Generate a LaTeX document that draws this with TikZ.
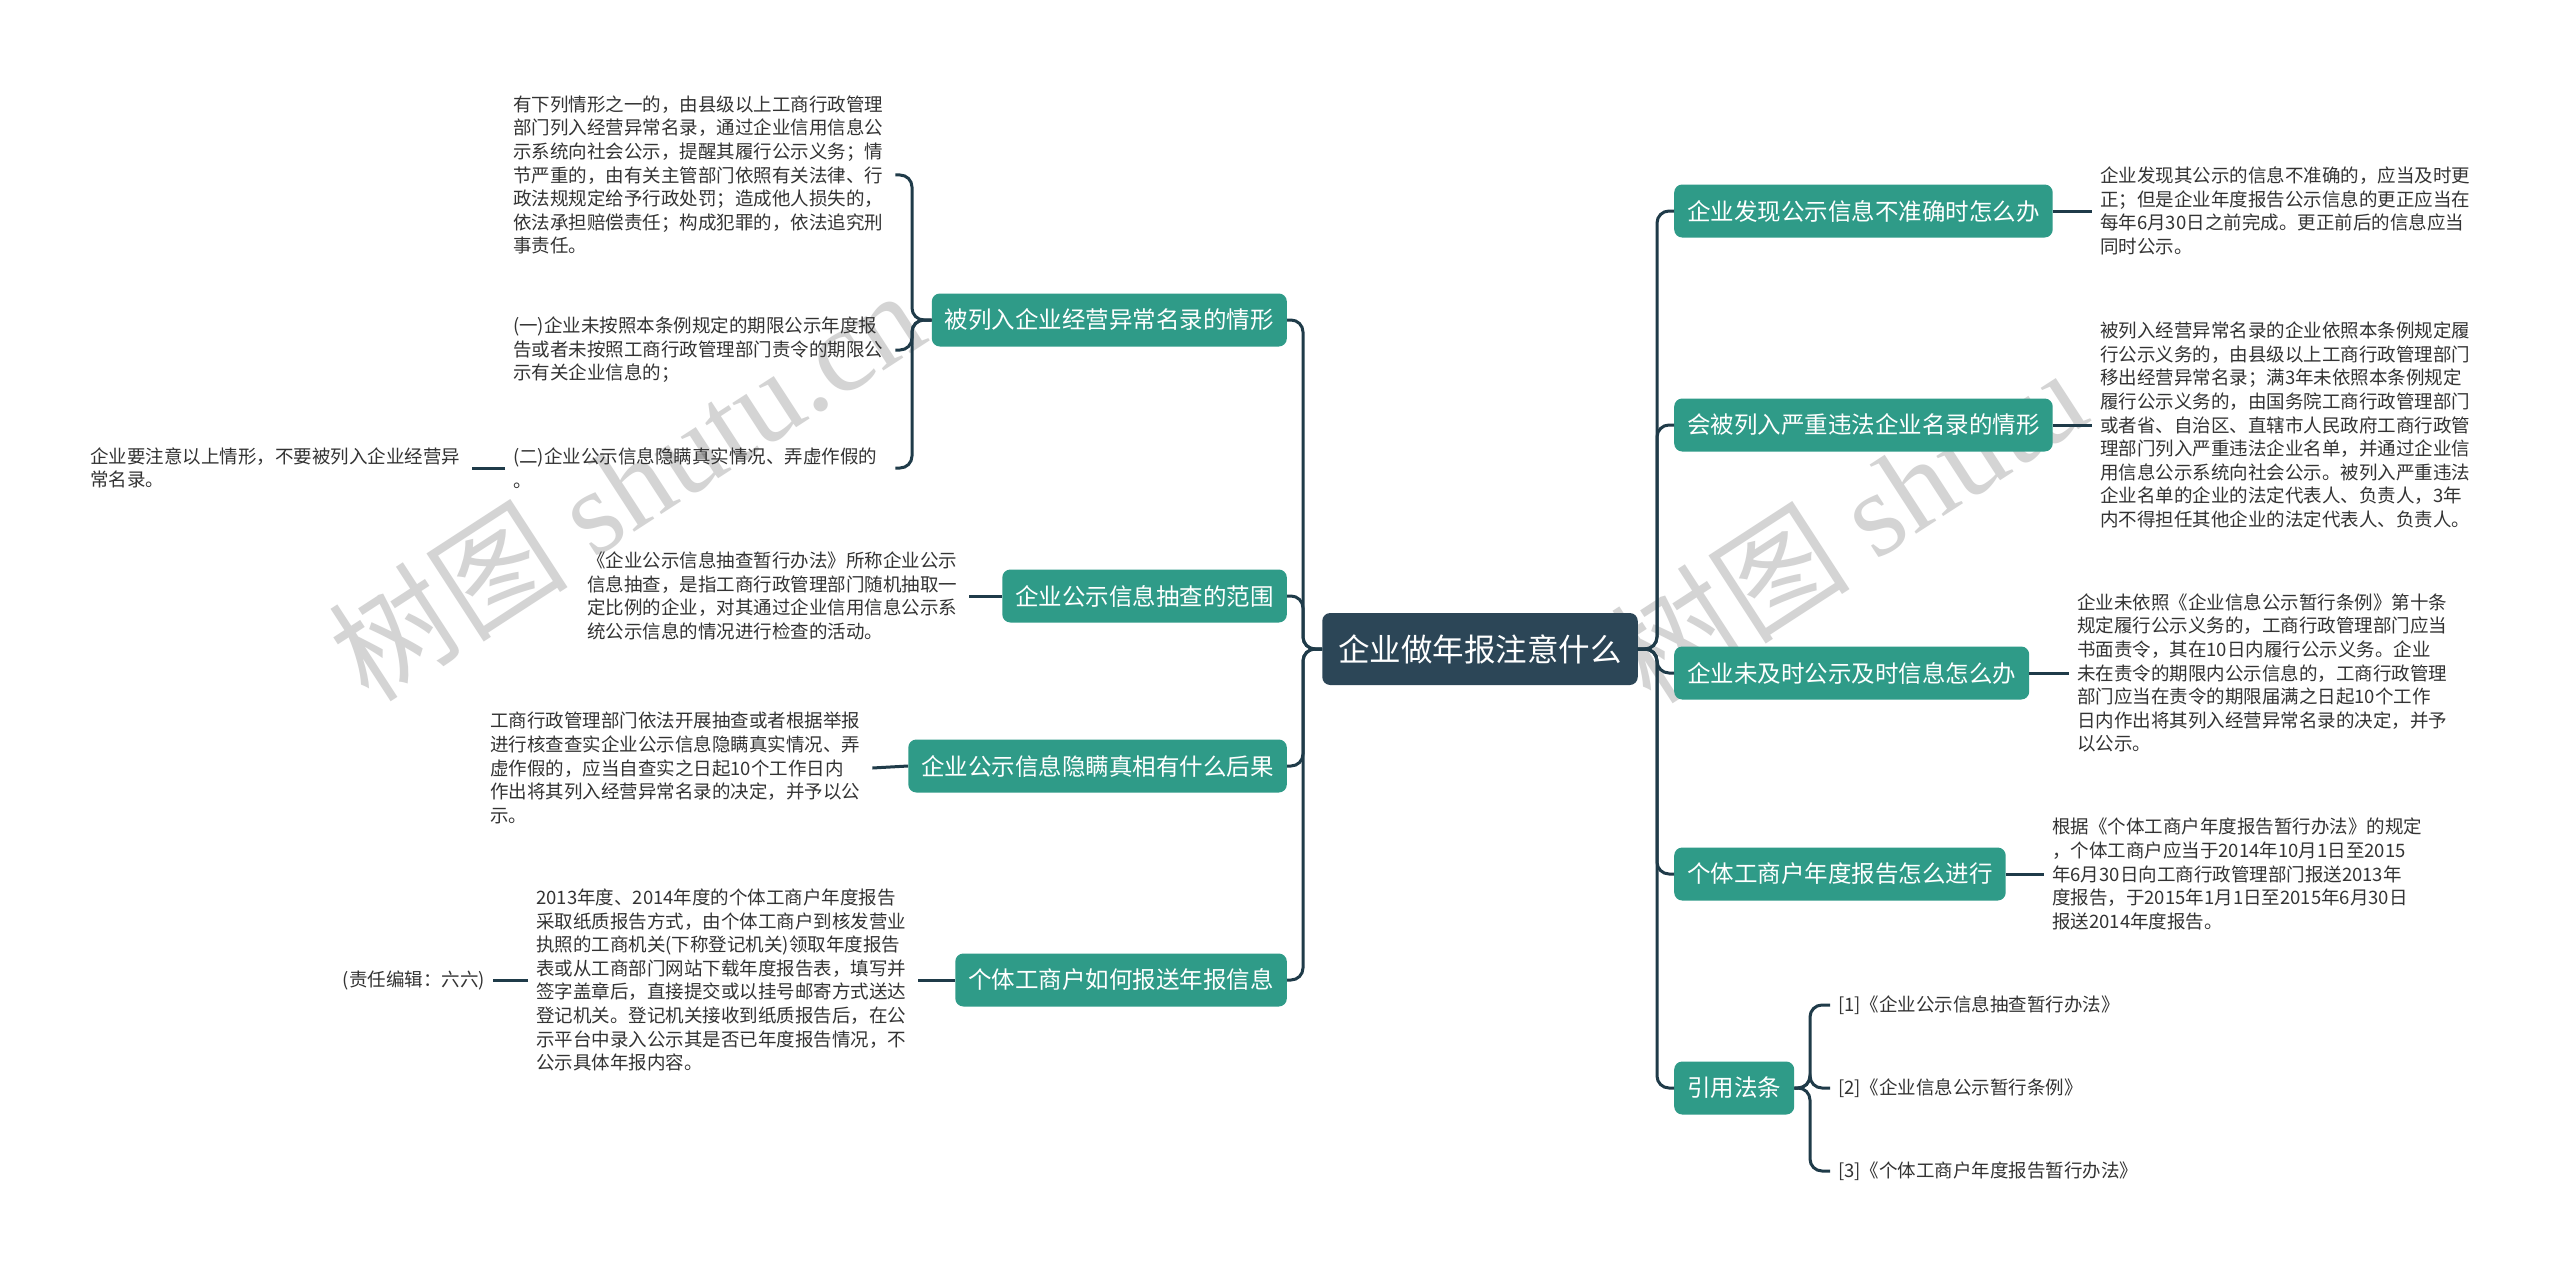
\documentclass[tikz,border=0pt]{standalone}
\usepackage{fontspec}
\setmainfont{Noto Sans CJK SC}
\newfontfamily\wmlatin{Liberation Serif}
\definecolor{rootC}{HTML}{2C4657}
\definecolor{tealC}{HTML}{2F9B88}
\definecolor{lineC}{HTML}{1F3B49}
\definecolor{leafC}{HTML}{333333}
\definecolor{wmC}{HTML}{D4D4D4}
\tikzset{
 conn/.style={draw=lineC, line width=3pt, rounded corners=12pt},
 rootbox/.style={fill=rootC, rounded corners=8pt, text=white, font=\fontsize{31.5}{36}\selectfont, inner xsep=16pt, inner ysep=0pt, minimum height=72pt},
 branchbox/.style={fill=tealC, rounded corners=8pt, text=white, font=\fontsize{23.5}{28}\selectfont, inner xsep=13pt, inner ysep=0pt, minimum height=53pt},
 leaf/.style={text=leafC, font=\fontsize{18.5}{23.6}\selectfont, align=left, inner xsep=8pt, inner ysep=2pt, text width=374pt, anchor=west},
 refitem/.style={text=leafC, font=\fontsize{18.5}{23.6}\selectfont, inner xsep=8pt, inner ysep=2pt, anchor=west},
 wm/.style={text=wmC, font=\fontsize{120}{130}\selectfont, rotate=33},
}
\begin{document}
\begin{tikzpicture}[x=1pt,y=-1pt]
\fill[white] (0,0) rectangle (2560,1271);
\useasboundingbox (0,0) rectangle (2560,1271);
% watermarks
\node[wm] (wm1) at (626,484) {树图 {\wmlatin shutu.cn}};
\node[wm] (wm2) at (1848,525) {树图 {\wmlatin shutu}};
% spines
\coordinate (sR) at (1657,0);
\coordinate (sL) at (1303,0);
\coordinate (sL1) at (912,0);
\coordinate (sR5) at (1810,0);
% root
\node[rootbox] (root) at (1480,649) {企业做年报注意什么};
% right branches
\node[branchbox, anchor=west] (R1) at (1674,211) {企业发现公示信息不准确时怎么办};
\node[branchbox, anchor=west] (R2) at (1674,425) {会被列入严重违法企业名录的情形};
\node[branchbox, anchor=west] (R3) at (1674,673) {企业未及时公示及时信息怎么办};
\node[branchbox, anchor=west] (R4) at (1674,874) {个体工商户年度报告怎么进行};
\node[branchbox, anchor=west] (R5) at (1674,1088) {引用法条};
% left branches
\node[branchbox, anchor=east] (L1) at (1287,320) {被列入企业经营异常名录的情形};
\node[branchbox, anchor=east] (L2) at (1287,596) {企业公示信息抽查的范围};
\node[branchbox, anchor=east] (L3) at (1287,766) {企业公示信息隐瞒真相有什么后果};
\node[branchbox, anchor=east] (L4) at (1287,980) {个体工商户如何报送年报信息};
% right leaves
\node[leaf] (R1a) at (2092,211) {企业发现其公示的信息不准确的，应当及时更\\正；但是企业年度报告公示信息的更正应当在\\每年6月30日之前完成。更正前后的信息应当\\同时公示。};
\node[leaf] (R2a) at (2092,425) {被列入经营异常名录的企业依照本条例规定履\\行公示义务的，由县级以上工商行政管理部门\\移出经营异常名录；满3年未依照本条例规定\\履行公示义务的，由国务院工商行政管理部门\\或者省、自治区、直辖市人民政府工商行政管\\理部门列入严重违法企业名单，并通过企业信\\用信息公示系统向社会公示。被列入严重违法\\企业名单的企业的法定代表人、负责人，3年\\内不得担任其他企业的法定代表人、负责人。};
\node[leaf] (R3a) at (2069,673) {企业未依照《企业信息公示暂行条例》第十条\\规定履行公示义务的，工商行政管理部门应当\\书面责令，其在10日内履行公示义务。企业\\未在责令的期限内公示信息的，工商行政管理\\部门应当在责令的期限届满之日起10个工作\\日内作出将其列入经营异常名录的决定，并予\\以公示。};
\node[leaf] (R4a) at (2044,874) {根据《个体工商户年度报告暂行办法》的规定\\，个体工商户应当于2014年10月1日至2015\\年6月30日向工商行政管理部门报送2013年\\度报告，于2015年1月1日至2015年6月30日\\报送2014年度报告。};
\node[refitem] (ref1) at (1830,1005) {[1]《企业公示信息抽查暂行办法》};
\node[refitem] (ref2) at (1830,1088) {[2]《企业信息公示暂行条例》};
\node[refitem] (ref3) at (1830,1171) {[3]《个体工商户年度报告暂行办法》};
% left leaves
\node[leaf] (L1a) at (505,175) {有下列情形之一的，由县级以上工商行政管理\\部门列入经营异常名录，通过企业信用信息公\\示系统向社会公示，提醒其履行公示义务；情\\节严重的，由有关主管部门依照有关法律、行\\政法规规定给予行政处罚；造成他人损失的，\\依法承担赔偿责任；构成犯罪的，依法追究刑\\事责任。};
\node[leaf] (L1b) at (505,350) {(一)企业未按照本条例规定的期限公示年度报\\告或者未按照工商行政管理部门责令的期限公\\示有关企业信息的；};
\node[leaf] (L1c) at (505,468) {(二)企业公示信息隐瞒真实情况、弄虚作假的\\。};
\node[leaf] (L1d) at (82,468) {企业要注意以上情形，不要被列入企业经营异\\常名录。};
\node[leaf] (L2a) at (579,596) {《企业公示信息抽查暂行办法》所称企业公示\\信息抽查，是指工商行政管理部门随机抽取一\\定比例的企业，对其通过企业信用信息公示系\\统公示信息的情况进行检查的活动。};
\node[leaf] (L3a) at (482,768) {工商行政管理部门依法开展抽查或者根据举报\\进行核查查实企业公示信息隐瞒真实情况、弄\\虚作假的，应当自查实之日起10个工作日内\\作出将其列入经营异常名录的决定，并予以公\\示。};
\node[leaf] (L4a) at (528,980) {2013年度、2014年度的个体工商户年度报告\\采取纸质报告方式，由个体工商户到核发营业\\执照的工商机关(下称登记机关)领取年度报告\\表或从工商部门网站下载年度报告表，填写并\\签字盖章后，直接提交或以挂号邮寄方式送达\\登记机关。登记机关接收到纸质报告后，在公\\示平台中录入公示其是否已年度报告情况，不\\公示具体年报内容。};
\node[refitem, anchor=east] (L4b) at (493,980) {(责任编辑：六六)};
% connectors root -> branches
\foreach \b in {R1,R2,R3,R4,R5}
  \draw[conn] (root.east) -- (root.east -| sR) |- (\b.west);
\foreach \b in {L1,L2,L3,L4}
  \draw[conn] (root.west) -- (root.west -| sL) |- (\b.east);
% branch -> leaves
\draw[conn] (R1.east) -- (R1a.west);
\draw[conn] (R2.east) -- (R2a.west);
\draw[conn] (R3.east) -- (R3a.west);
\draw[conn] (R4.east) -- (R4a.west);
\foreach \r in {ref1,ref2,ref3}
  \draw[conn] (R5.east) -- (R5.east -| sR5) |- (\r.west);
\foreach \l in {L1a,L1b,L1c}
  \draw[conn] (L1.west) -- (L1.west -| sL1) |- (\l.east);
\draw[conn] (L1c.west) -- (L1d.east);
\draw[conn] (L2.west) -- (L2a.east);
\draw[conn] (L3.west) -- (L3a.east);
\draw[conn] (L4.west) -- (L4a.east);
\draw[conn] (L4a.west) -- (L4b.east);
\end{tikzpicture}
\end{document}
